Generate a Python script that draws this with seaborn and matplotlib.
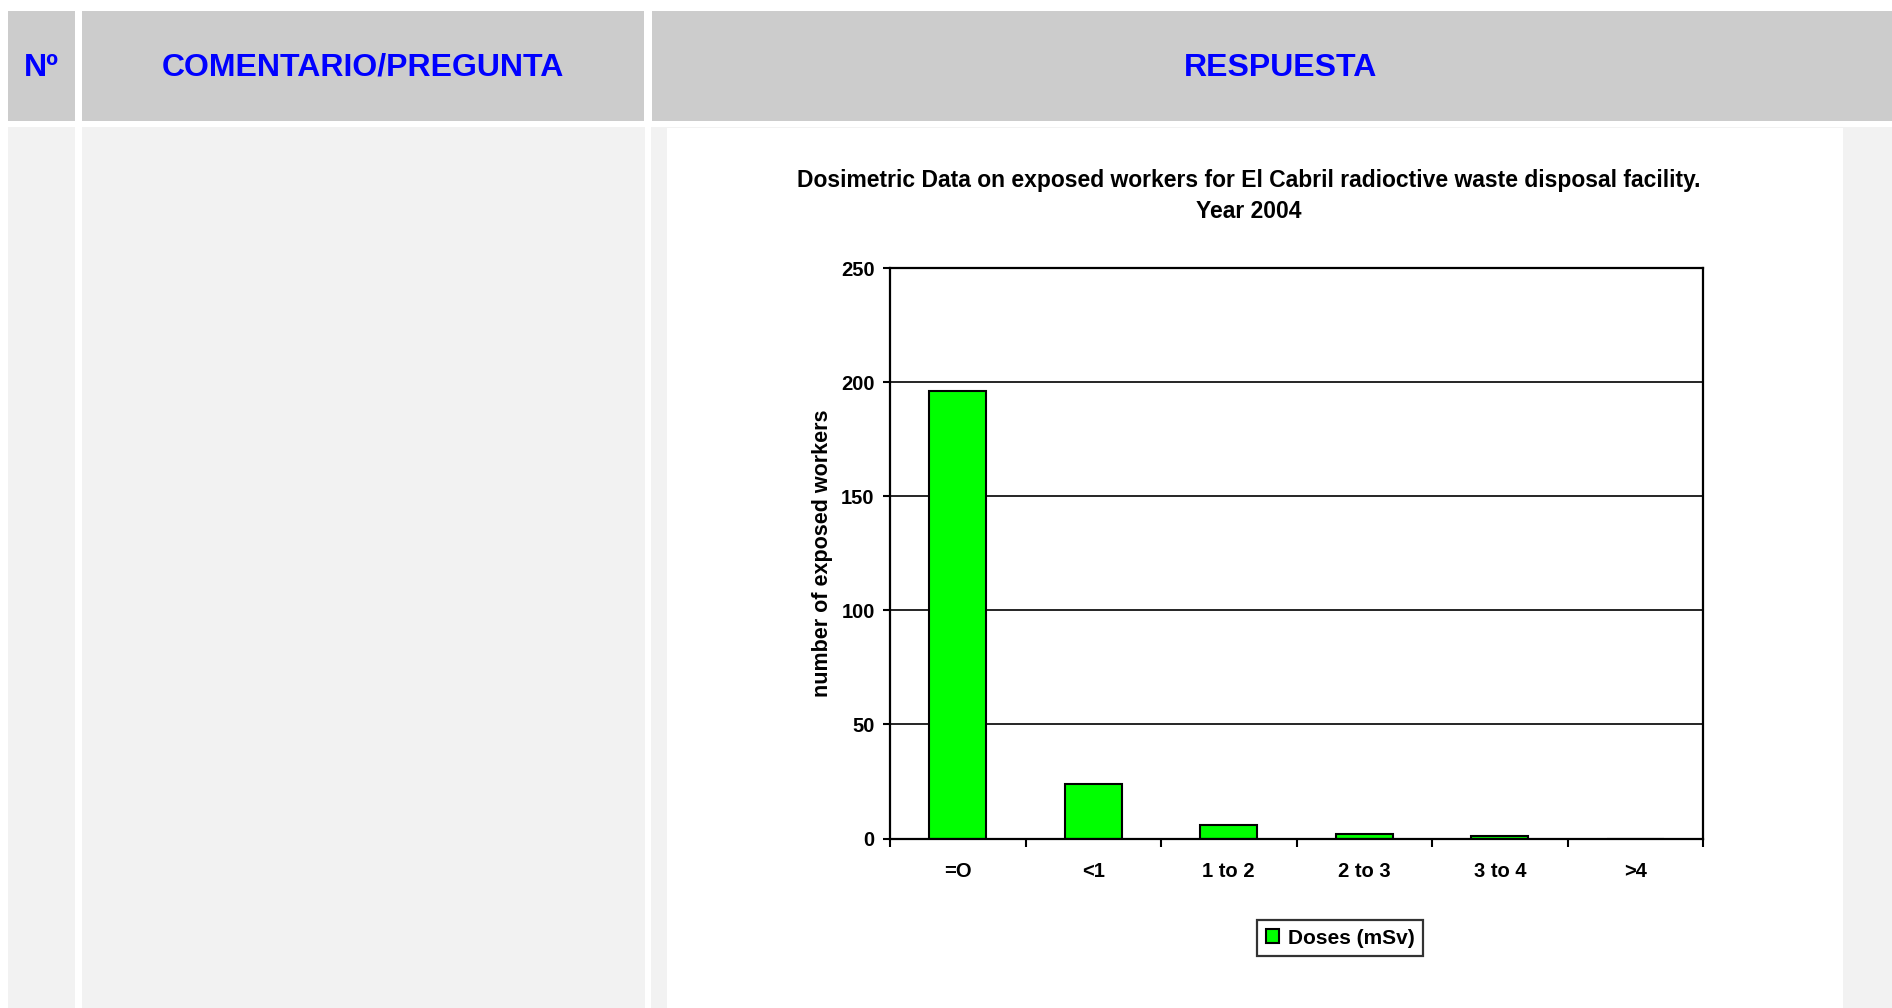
import matplotlib
matplotlib.use('Agg')
import matplotlib.pyplot as plt
import seaborn as sns
import pandas as pd
from matplotlib.patches import Rectangle

# datos
categories = ['=O', '<1', '1 to 2', '2 to 3', '3 to 4', '>4']
workers = [196, 24, 6, 2, 1, 0]
series_name = 'Doses (mSv)'
title_lines = ['Dosimetric Data on exposed workers for El Cabril radioctive waste disposal facility.',
               'Year 2004']
y_label = 'number of exposed workers'
y_ticks = [0, 50, 100, 150, 200, 250]
headers = ['Nº', 'COMENTARIO/PREGUNTA', 'RESPUESTA']

W, H = 1892, 1008
sns.set_theme(style='white')
plt.rcParams['font.family'] = ['Liberation Sans', 'DejaVu Sans']

fig = plt.figure(figsize=(W / 100, H / 100), dpi=100)
fig.patch.set_facecolor('white')


def box(x0, y0, x1, y1, color):
    # rectangulo en pixeles (origen arriba a la izquierda)
    fig.patches.append(Rectangle((x0 / W, 1 - y1 / H), (x1 - x0) / W, (y1 - y0) / H,
                                 transform=fig.transFigure, facecolor=color,
                                 edgecolor='none', zorder=-5))


# cabecera de la tabla
header_gray = '#cccccc'
body_gray = '#f2f2f2'
cells = [(8, 75), (82, 644), (652, 1892)]
for (x0, x1) in cells:
    box(x0, 11, x1, 121, header_gray)
box(8, 127, 75, H, body_gray)
box(82, 127, 645, H, body_gray)
box(651, 127, 1892, H, body_gray)
box(667, 128, 1843, H, 'white')

header_x = [41.5, 363, 1281]
for txt, x in zip(headers, header_x):
    fig.text(x / W, 1 - 68 / H, txt, ha='center', va='center', color='#0000ff',
             fontsize=23, fontweight='bold')

# titulo del grafico
fig.text(1249 / W, 1 - 181 / H, title_lines[0], ha='center', va='center',
         fontsize=16.5, fontweight='bold', color='black')
fig.text(1249 / W, 1 - 212 / H, title_lines[1], ha='center', va='center',
         fontsize=16.5, fontweight='bold', color='black')

# grafico de barras
left, right, top, bottom = 890, 1703, 268, 838.5
ax = fig.add_axes([left / W, 1 - bottom / H, (right - left) / W, (bottom - top) / H])
ax.set_facecolor('white')

df = pd.DataFrame({'dose': categories, 'workers': workers, 'serie': series_name})
sns.barplot(data=df, x='dose', y='workers', hue='serie', palette=['#00ff00'],
            saturation=1, edgecolor='black', linewidth=1.5, width=0.42, dodge=False,
            errorbar=None, ax=ax)

ax.set_ylim(0, 250)
ax.set_xlim(-0.5, len(categories) - 0.5)
ax.set_yticks(y_ticks)
ax.set_yticklabels([str(v) for v in y_ticks], fontsize=14.5, fontweight='bold')
ax.set_xticks(range(len(categories)))
ax.set_xticklabels(categories, fontsize=14.5, fontweight='bold')
ax.set_xticks([i - 0.5 for i in range(len(categories) + 1)], minor=True)
ax.tick_params(axis='x', which='major', length=0, pad=17, colors='black')
ax.tick_params(axis='x', which='minor', length=6, width=1.5, direction='out',
               bottom=True, color='black')
ax.tick_params(axis='y', which='major', length=5, width=1.5, direction='out',
               left=True, pad=6, colors='black')
ax.set_xlabel('')
ax.set_ylabel(y_label, fontsize=15.5, fontweight='bold', color='black', labelpad=6)
ax.yaxis.grid(True, color='black', linewidth=1.2)
ax.set_axisbelow(True)
for s in ax.spines.values():
    s.set_visible(True)
    s.set_color('black')
    s.set_linewidth(1.6)

leg = ax.legend(loc='center', bbox_to_anchor=(1340 / W, 1 - 938 / H),
                bbox_transform=fig.transFigure, frameon=True, fancybox=False,
                prop={'size': 15, 'weight': 'bold'}, borderpad=0.4,
                handlelength=0.65, handleheight=0.65, handletextpad=0.4)
leg.get_frame().set_edgecolor('black')
leg.get_frame().set_linewidth(1.6)
for t in leg.get_texts():
    t.set_color('black')

fig.savefig('out.png', dpi=100, facecolor='white')
